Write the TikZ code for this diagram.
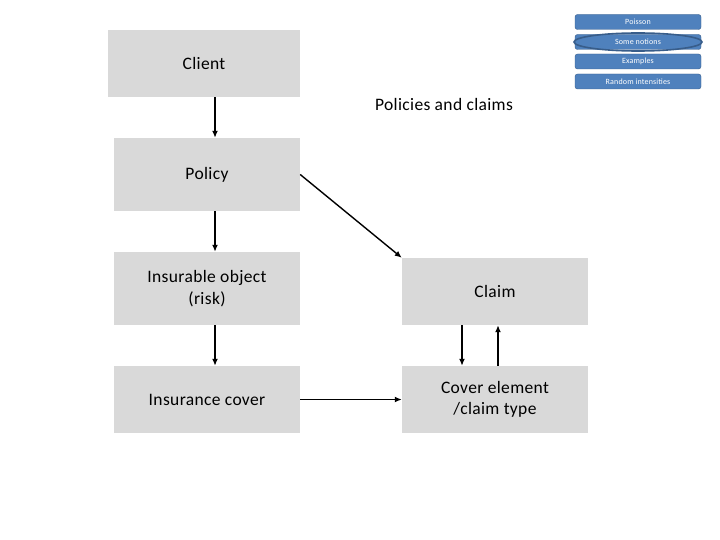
\documentclass[tikz,border=0pt]{standalone}
\usepackage{fontspec}
\setmainfont{Carlito}[LetterSpace=2]
\usetikzlibrary{arrows.meta}
\definecolor{boxgray}{HTML}{D9D9D9}
\definecolor{btnblue}{HTML}{4F81BD}
\definecolor{btnedge}{HTML}{385D8A}
\begin{document}
\begin{tikzpicture}[x=1pt,y=-1pt,
  gbox/.style={fill=boxgray,draw=none,minimum width=#1,inner sep=0pt,font=\fontsize{17.5}{21.5}\selectfont,align=center},
  gbox/.default=186pt,
  btn/.style={fill=btnblue,draw=btnedge,line width=0.4pt,rounded corners=2.5pt,minimum width=126pt,minimum height=15pt,inner sep=0pt,text=white,font=\fontsize{8}{9}\selectfont},
  arr/.style={line width=1.4pt,-{Latex[length=7pt,width=6pt]}}]
\useasboundingbox (0,0) rectangle (720,540);
% boxes
\node[gbox=192pt,minimum height=67pt] (client) at (204,63.5) {Client};
\node[gbox,minimum height=73pt] (policy) at (207,174.5) {Policy};
\node[gbox,minimum height=73pt] (insobj) at (207,288.5) {Insurable object\\(risk)};
\node[gbox,minimum height=67pt] (inscov) at (207,399.5) {Insurance cover};
\node[gbox,minimum height=67pt] (claim) at (495,291.5) {Claim};
\node[gbox,minimum height=67pt] (covel) at (495,399.5) {Cover element\\/claim type};
\node[font=\fontsize{17.5}{21.5}\selectfont,inner sep=0pt] (title) at (444,104) {Policies and claims};
% buttons
\node[btn] (poisson) at (638,22) {Poisson};
\node[btn] (notions) at (638,42) {Some notions};
\draw[btnedge,line width=1.6pt] (notions.center) ellipse (64pt and 9pt);
\node[btn] (examples) at (638,61.5) {Examples};
\node[btn] (random) at (638,81.5) {Random intensities};
% arrows
\draw[arr] (client.south -| 215,0) -- (policy.north -| 215,0);
\draw[arr] (policy.south -| 215,0) -- (insobj.north -| 215,0);
\draw[arr] (insobj.south -| 215,0) -- (inscov.north -| 215,0);
\draw[arr] (policy.east) -- (claim.north west);
\draw[arr] (inscov.east) -- (covel.west);
\draw[arr] (claim.south -| 462,0) -- (covel.north -| 462,0);
\draw[arr] (covel.north -| 498,0) -- (claim.south -| 498,0);
\end{tikzpicture}
\end{document}
